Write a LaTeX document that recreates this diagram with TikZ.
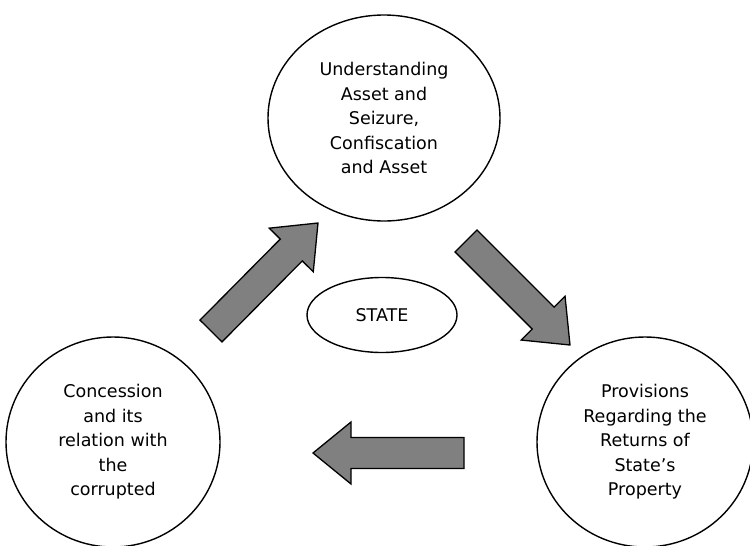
\documentclass[tikz,border=0pt]{standalone}
\usepackage{fontspec}
\setmainfont{DejaVu Sans}
\usetikzlibrary{calc,shapes.geometric}

\tikzset{
  topic/.style={ellipse, draw, line width=1.4pt, align=center, inner sep=0pt,
    font=\fontsize{17.5}{24.5}\selectfont},
  blockarrow/.style={draw, line width=1.3pt, fill=black!50, line join=miter},
}
% block arrow from tail #1 to tip #2
\newcommand{\bigarrow}[2]{%
  \coordinate (hb) at ($(#2)!38pt!(#1)$);
  \draw[blockarrow] ($(#1)!15.5pt!90:(#2)$) -- ($(hb)!15.5pt!90:(#2)$) -- ($(hb)!31pt!90:(#2)$)
    -- (#2) -- ($(hb)!31pt!-90:(#2)$) -- ($(hb)!15.5pt!-90:(#2)$) -- ($(#1)!15.5pt!-90:(#2)$) -- cycle;}

\begin{document}
\begin{tikzpicture}[x=1pt,y=-1pt]
    \clip (0,0) rectangle (750,546);
    \fill[white] (0,0) rectangle (750,546);
    \coordinate (upT)    at (211,331);
    \coordinate (upP)    at (318,223);
    \coordinate (downT)  at (466,241);
    \coordinate (downP)  at (570,345);
    \coordinate (leftT)  at (464,453);
    \coordinate (leftP)  at (313,453);
    \node[topic, minimum width=232pt, minimum height=206pt] (seize) at (384,118)
      {Understanding\\Asset and\\Seizure,\\Confiscation\\and Asset};
    \node[topic, minimum width=214pt, minimum height=210pt] (concession) at (113,442)
      {Concession\\and its\\relation with\\the\\corrupted};
    \node[topic, minimum width=216pt, minimum height=210pt] (returns) at (645,442)
      {Provisions\\Regarding the\\Returns of\\State’s\\Property};
    \node[topic, minimum width=150pt, minimum height=75pt, font=\fontsize{17.5}{20}\selectfont] (state) at (382,315) {STATE};
    \bigarrow{upT}{upP}
    \bigarrow{downT}{downP}
    \bigarrow{leftT}{leftP}
\end{tikzpicture}
\end{document}
